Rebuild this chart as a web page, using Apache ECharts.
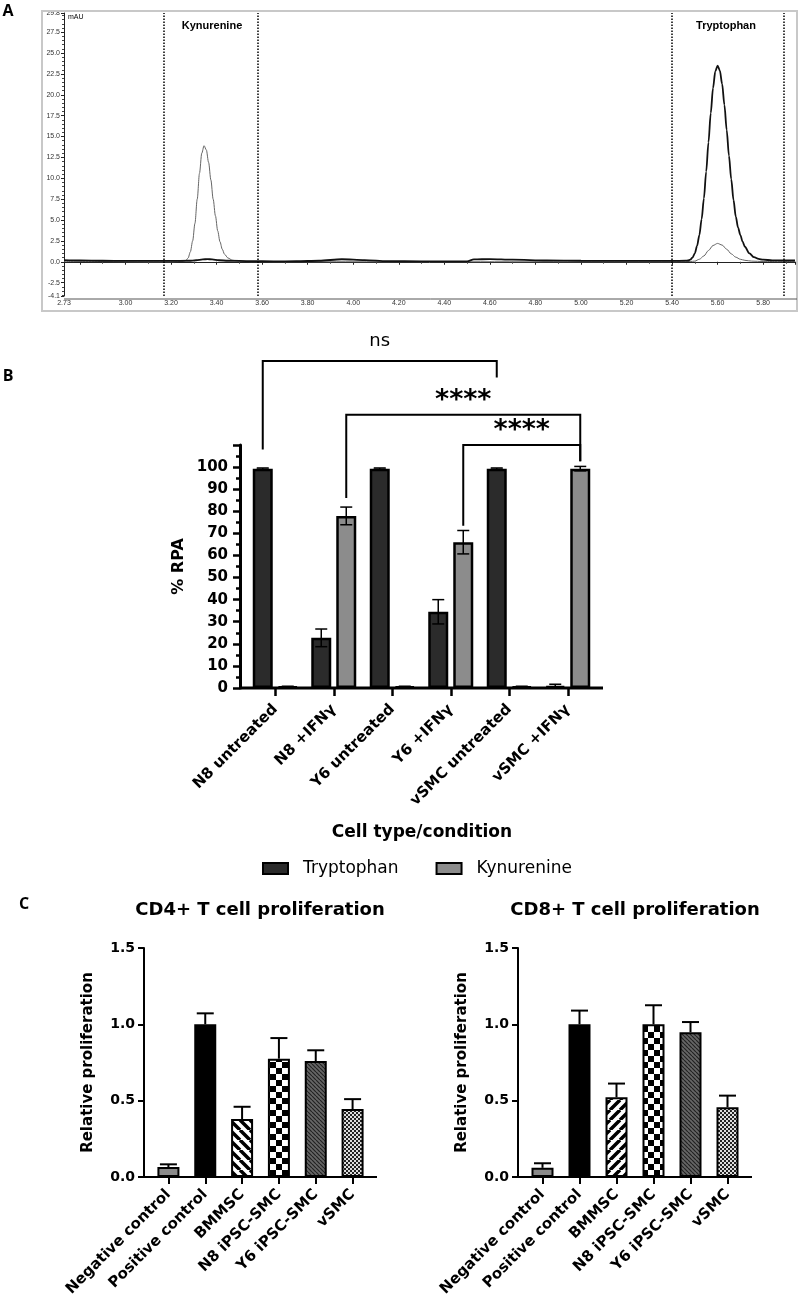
<!DOCTYPE html>
<html>
<head>
<meta charset="utf-8">
<script src="https://cdn.jsdelivr.net/npm/echarts@6/dist/echarts.min.js"></script>
<style>
  html, body { margin: 0; padding: 0; background: #fff; }
  #chart { width: 800px; height: 1300px; }
</style>
</head>
<body>
<div id="chart"></div>
<script>
// ---------- panel A : HPLC traces, [retention time (min), mAU] ----------
var thickTrace = [
  [2.73, 0.2], [2.8, 0.16], [2.9, 0.12], [3.0, 0.1], [3.1, 0.1], [3.2, 0.1], [3.28, 0.12],
  [3.31, 0.18], [3.34, 0.28], [3.36, 0.32], [3.38, 0.28], [3.41, 0.18], [3.45, 0.12], [3.55, 0.08],
  [3.65, 0.05], [3.75, 0.06], [3.85, 0.12], [3.95, 0.3], [4.05, 0.2], [4.15, 0.08], [4.3, 0.05],
  [4.45, 0.04], [4.5, 0.05], [4.53, 0.28], [4.6, 0.32], [4.7, 0.25], [4.85, 0.15], [5.0, 0.12],
  [5.2, 0.1], [5.4, 0.1], [5.46, 0.13], [5.47, 0.15], [5.48, 0.25], [5.49, 0.5], [5.5, 1.0],
  [5.51, 1.9], [5.52, 3.2], [5.53, 5.1], [5.54, 7.6], [5.55, 10.8], [5.56, 14.3], [5.57, 17.8],
  [5.58, 20.8], [5.59, 22.8], [5.6, 23.5], [5.61, 22.9], [5.62, 21.3], [5.63, 18.8], [5.64, 15.8],
  [5.65, 12.7], [5.66, 9.9], [5.67, 7.4], [5.68, 5.4], [5.69, 4.1], [5.7, 3.2], [5.71, 2.4],
  [5.72, 1.8], [5.74, 1.0], [5.76, 0.55], [5.78, 0.35], [5.8, 0.25], [5.84, 0.17], [5.9, 0.15], [5.94, 0.15]
];
var thinTrace = [
  [2.73, 0.05], [2.9, 0.02], [3.1, 0.0], [3.2, 0.0], [3.255, 0.05], [3.265, 0.15], [3.275, 0.45],
  [3.285, 1.2], [3.295, 2.5], [3.305, 4.6], [3.315, 7.5], [3.325, 10.6], [3.335, 13.0], [3.345, 13.9],
  [3.355, 13.4], [3.365, 11.9], [3.375, 9.8], [3.385, 7.5], [3.395, 5.5], [3.405, 3.7], [3.415, 2.4],
  [3.425, 1.5], [3.435, 0.9], [3.45, 0.45], [3.47, 0.18], [3.5, 0.07], [3.55, 0.02], [3.7, 0.0],
  [4.0, 0.0], [4.5, 0.0], [5.0, 0.0], [5.4, 0.0], [5.48, 0.03], [5.5, 0.08], [5.52, 0.3], [5.54, 0.7],
  [5.56, 1.35], [5.58, 1.95], [5.6, 2.2], [5.62, 2.0], [5.64, 1.5], [5.66, 0.95], [5.68, 0.55],
  [5.7, 0.3], [5.72, 0.17], [5.75, 0.08], [5.8, 0.03], [5.94, 0.02]
];
var regionBounds = [3.17, 3.585, 5.40, 5.89];

// ---------- panel B : % RPA ----------
var conditions = ['N8 untreated', 'N8 +IFNγ', 'Y6 untreated', 'Y6 +IFNγ', 'vSMC untreated', 'vSMC +IFNγ'];
var trpMean = [99.3, 22.7, 99.3, 34.5, 99.3, 0.8];
var trpErr  = [0.3, 4.0, 0.3, 5.5, 0.3, 0.9];
var kynMean = [0.6, 77.9, 0.6, 66.0, 0.6, 99.3];
var kynErr  = [0.2, 4.0, 0.2, 5.3, 0.2, 1.0];
// [from category, bar, value], [to category, bar, value], top, label
var brackets = [
  { from: [0, 'trp', 108], to: [4, 'trp', 140.5], top: 148, label: 'ns', labelAt: 157 },
  { from: [1, 'kyn', 86], to: [5, 'kyn', 102.7], top: 123.7, label: '****', labelAt: 130 },
  { from: [3, 'kyn', 73.5], to: [5, 'kyn', 102.7], top: 110, label: '****', labelAt: 116.5 }
];

// ---------- panel C : relative proliferation ----------
var cellTypes = ['Negative control', 'Positive control', 'BMMSC', 'N8 iPSC-SMC', 'Y6 iPSC-SMC', 'vSMC'];
var cd4Mean = [0.065, 1.0, 0.38, 0.775, 0.76, 0.445];
var cd4Sem  = [0.018, 0.072, 0.08, 0.135, 0.07, 0.065];
var cd8Mean = [0.06, 1.0, 0.522, 1.0, 0.948, 0.457];
var cd8Sem  = [0.03, 0.09, 0.09, 0.125, 0.067, 0.076];

var BOLD = 'DejaVu Sans';
var gridA = { left: 64, top: 13, width: 731, height: 283 };
var gridB = { left: 246, top: 445, width: 351, height: 243 };
var gridC4 = { left: 150, top: 948, width: 221, height: 229 };
var gridC8 = { left: 524, top: 948, width: 222, height: 229 };
var B_BAR = 20, B_GAP = 0.25;
var bOffset = B_BAR * (1 + B_GAP) / 2;

// fill patterns for panel C
function stripes(dir, bg, fg, size, lw) {
  var c = document.createElement('canvas');
  c.width = c.height = size;
  var g = c.getContext('2d');
  g.fillStyle = bg; g.fillRect(0, 0, size, size);
  g.strokeStyle = fg; g.lineWidth = lw;
  g.beginPath();
  for (var k = -1; k <= 1; k++) {
    if (dir === '/') { g.moveTo(k * size, size); g.lineTo(k * size + size, 0); }
    else { g.moveTo(k * size, 0); g.lineTo(k * size + size, size); }
  }
  g.stroke();
  return { image: c, repeat: 'repeat' };
}
function checker(s, c1, c2) {
  var c = document.createElement('canvas');
  c.width = c.height = s * 2;
  var g = c.getContext('2d');
  g.fillStyle = c2; g.fillRect(0, 0, s * 2, s * 2);
  g.fillStyle = c1; g.fillRect(0, 0, s, s); g.fillRect(s, s, s, s);
  return { image: c, repeat: 'repeat' };
}
function fills(bmDir) {
  return ['#8a8a8a', '#000000', stripes(bmDir, '#ffffff', '#000000', 10, 3.5),
    checker(6, '#000000', '#ffffff'), stripes('\\', '#666666', '#222222', 4, 1.2),
    checker(2, '#222222', '#dddddd')];
}

function errBars(offset, cap, lw, both) {
  return function (params, api) {
    var cat = api.value(0), m = api.value(1), e = api.value(2);
    var x = api.coord([cat, 0])[0] + offset;
    var hi = api.coord([cat, m + e])[1];
    var lo = api.coord([cat, both ? Math.max(0, m - e) : m])[1];
    var st = { stroke: '#000', lineWidth: lw };
    var kids = [
      { type: 'line', shape: { x1: x, y1: lo, x2: x, y2: hi }, style: st },
      { type: 'line', shape: { x1: x - cap / 2, y1: hi, x2: x + cap / 2, y2: hi }, style: st }
    ];
    if (both) kids.push({ type: 'line', shape: { x1: x - cap / 2, y1: lo, x2: x + cap / 2, y2: lo }, style: st });
    return { type: 'group', children: kids };
  };
}
function zip3(m, e) { return m.map(function (v, i) { return [i, v, e[i]]; }); }

function cYAxis(grid) {
  return {
    type: 'value', gridIndex: grid, min: 0, max: 1.5, interval: 0.5, offset: 6,
    name: 'Relative proliferation', nameLocation: 'middle', nameGap: 48,
    nameTextStyle: { fontFamily: BOLD, fontWeight: 'bold', fontSize: 15, color: '#000' },
    axisLine: { show: true, lineStyle: { color: '#000', width: 2 } },
    axisTick: { show: true, length: 6, lineStyle: { color: '#000', width: 2 } },
    axisLabel: { fontFamily: BOLD, fontWeight: 'bold', fontSize: 14, color: '#000', margin: 9,
      formatter: function (v) { return v.toFixed(1); } },
    splitLine: { show: false }
  };
}
function cXAxis(grid) {
  return {
    type: 'category', gridIndex: grid, data: cellTypes,
    axisLine: { show: false },
    axisTick: { show: true, alignWithLabel: true, length: 7, lineStyle: { color: '#000', width: 2 } },
    axisLabel: { interval: 0, rotate: 45, fontFamily: BOLD, fontWeight: 'bold', fontSize: 15, color: '#000', margin: 15 }
  };
}
function cBars(xi, means, dir) {
  var f = fills(dir);
  return {
    type: 'bar', xAxisIndex: xi, yAxisIndex: xi, barWidth: 22,
    data: means.map(function (v, i) { return { value: v, itemStyle: { color: f[i] } }; }),
    itemStyle: { borderColor: '#000', borderWidth: 2 }
  };
}

var chart = echarts.init(document.getElementById('chart'), null, { renderer: 'canvas' });

var option = {
  animation: false,
  backgroundColor: '#fff',
  grid: [
    Object.assign({ show: false }, gridA),
    gridB, gridC4, gridC8
  ],
  legend: {
    data: ['Tryptophan', 'Kynurenine'], left: 257, top: 855, icon: 'rect',
    itemWidth: 25, itemHeight: 11, itemGap: 37,
    itemStyle: { borderColor: '#000', borderWidth: 2 },
    textStyle: { fontFamily: BOLD, fontSize: 17, color: '#000', padding: [0, 0, 0, 10] }
  },
  xAxis: [
    {
      type: 'value', gridIndex: 0, min: 2.73, max: 5.94, minInterval: 0.2, maxInterval: 0.2,
      axisLine: { lineStyle: { color: '#222', width: 1 } },
      axisTick: { length: 3, lineStyle: { color: '#222' } },
      minorTick: { show: true, splitNumber: 2, length: 2, lineStyle: { color: '#444' } },
      axisLabel: { fontFamily: 'Liberation Sans', fontSize: 7, color: '#333', margin: 4,
        showMinLabel: true, showMaxLabel: false,
        formatter: function (v) { return (Math.abs(v - 2.8) < 1e-6 || v > 5.85) ? '' : v.toFixed(2); } },
      splitLine: { show: false }
    },
    {
      type: 'category', gridIndex: 1, data: conditions,
      axisLine: { show: false },
      axisTick: { show: true, alignWithLabel: true, length: 8, lineStyle: { color: '#000', width: 2.5 } },
      axisLabel: { interval: 0, rotate: 45, fontFamily: BOLD, fontWeight: 'bold', fontSize: 15, color: '#000', margin: 19 }
    },
    cXAxis(2), cXAxis(3)
  ],
  yAxis: [
    {
      type: 'value', gridIndex: 0, min: -4.1, max: 29.8, minInterval: 2.5, maxInterval: 2.5,
      axisLine: { show: true, lineStyle: { color: '#222', width: 1 } },
      axisTick: { show: true, length: 3, lineStyle: { color: '#222' } },
      minorTick: { show: true, splitNumber: 5, length: 2, lineStyle: { color: '#444' } },
      axisLabel: { fontFamily: 'Liberation Sans', fontSize: 7, color: '#333', margin: 4,
        showMinLabel: true, showMaxLabel: true,
        formatter: function (v) { return v.toFixed(1); } },
      splitLine: { show: false }
    },
    {
      type: 'value', gridIndex: 1, min: 0, max: 110, interval: 10, offset: 6,
      name: '% RPA', nameLocation: 'middle', nameGap: 53,
      nameTextStyle: { fontFamily: BOLD, fontWeight: 'bold', fontSize: 16, color: '#000' },
      axisLine: { show: true, lineStyle: { color: '#000', width: 3 } },
      axisTick: { show: true, length: 7, lineStyle: { color: '#000', width: 2.5 } },
      minorTick: { show: true, splitNumber: 2, length: 4, lineStyle: { color: '#000', width: 2.5 } },
      axisLabel: { fontFamily: BOLD, fontWeight: 'bold', fontSize: 15, color: '#000', margin: 12,
        formatter: function (v) { return v === 110 ? '' : String(v); } },
      splitLine: { show: false }
    },
    cYAxis(2), cYAxis(3)
  ],
  series: [
    {
      type: 'line', xAxisIndex: 0, yAxisIndex: 0, data: thickTrace, showSymbol: false,
      smooth: 0.3, smoothMonotone: 'x', lineStyle: { color: '#111', width: 1.8 }, z: 3,
      markLine: {
        silent: true, symbol: 'none', label: { show: false },
        lineStyle: { color: '#000', type: 'dotted', width: 1.5 },
        data: regionBounds.map(function (t) { return { xAxis: t }; })
      }
    },
    {
      type: 'line', xAxisIndex: 0, yAxisIndex: 0, data: thinTrace, showSymbol: false,
      smooth: 0.3, smoothMonotone: 'x', lineStyle: { color: '#666', width: 1 }, z: 2
    },
    {
      name: 'Tryptophan', type: 'bar', xAxisIndex: 1, yAxisIndex: 1, data: trpMean,
      barWidth: B_BAR, barGap: (B_GAP * 100) + '%',
      itemStyle: { color: '#2b2b2b', borderColor: '#000', borderWidth: 2.5 }
    },
    {
      name: 'Kynurenine', type: 'bar', xAxisIndex: 1, yAxisIndex: 1, data: kynMean,
      barWidth: B_BAR, barGap: (B_GAP * 100) + '%',
      itemStyle: { color: '#8c8c8c', borderColor: '#000', borderWidth: 2.5 }
    },
    { type: 'custom', xAxisIndex: 1, yAxisIndex: 1, data: zip3(trpMean, trpErr), z: 5,
      renderItem: errBars(-bOffset, 12, 1.5, true) },
    { type: 'custom', xAxisIndex: 1, yAxisIndex: 1, data: zip3(kynMean, kynErr), z: 5,
      renderItem: errBars(bOffset, 12, 1.5, true) },
    cBars(2, cd4Mean, '\\'),
    { type: 'custom', xAxisIndex: 2, yAxisIndex: 2, data: zip3(cd4Mean, cd4Sem), z: 5,
      renderItem: errBars(0, 17, 2, false) },
    cBars(3, cd8Mean, '/'),
    { type: 'custom', xAxisIndex: 3, yAxisIndex: 3, data: zip3(cd8Mean, cd8Sem), z: 5,
      renderItem: errBars(0, 17, 2, false) }
  ]
};
chart.setOption(option);

// ---------- annotations ----------
function txt(text, x, y, font, align) {
  return { type: 'text', x: x, y: y, z: 10,
    style: { text: text, font: font, fill: '#000', align: align || 'center', verticalAlign: 'middle' } };
}
function axisLine(g, w) {
  var y = g.top + g.height;
  return { type: 'line', z: 10, shape: { x1: g.left - 6, y1: y, x2: g.left + g.width + 6, y2: y },
    style: { stroke: '#000', lineWidth: w } };
}
var els = [
  { type: 'rect', shape: { x: 42, y: 11, width: 755, height: 300 }, style: { fill: null, stroke: '#c8c8c8', lineWidth: 2 }, z: 1 },
  { type: 'line', shape: { x1: 64, y1: 299, x2: 797, y2: 299 }, style: { stroke: '#555', lineWidth: 1 }, z: 1 },
  txt('A', 8, 11, 'bold 16px "Open Sans"'),
  txt('B', 8, 376, 'bold 16px "Open Sans"'),
  txt('C', 24, 904, 'bold 16px "Open Sans"'),
  txt('mAU', 68, 17, '7px "Liberation Sans"', 'left'),
  txt('Kynurenine', 212, 26, 'bold 11px "Liberation Sans"'),
  txt('Tryptophan', 726, 26, 'bold 11px "Liberation Sans"'),
  txt('Cell type/condition', 422, 833, 'bold 17px "DejaVu Sans"'),
  txt('CD4+ T cell proliferation', 260, 910, 'bold 18px "DejaVu Sans"'),
  txt('CD8+ T cell proliferation', 635, 910, 'bold 18px "DejaVu Sans"'),
  axisLine(gridB, 3), axisLine(gridC4, 2), axisLine(gridC8, 2)
];
function bPoint(cat, bar, v) {
  var p = chart.convertToPixel({ xAxisIndex: 1, yAxisIndex: 1 }, [cat, v]);
  return [p[0] + (bar === 'trp' ? -bOffset : bOffset), p[1]];
}
brackets.forEach(function (b) {
  var a = bPoint(b.from[0], b.from[1], b.from[2]);
  var d = bPoint(b.to[0], b.to[1], b.to[2]);
  var ty = bPoint(b.from[0], b.from[1], b.top)[1];
  var ly = bPoint(b.from[0], b.from[1], b.labelAt)[1];
  els.push({ type: 'polyline', z: 10, shape: { points: [a, [a[0], ty], [d[0], ty], d] },
    style: { stroke: '#000', lineWidth: 2, fill: null } });
  els.push(txt(b.label, (a[0] + d[0]) / 2, ly,
    b.label === 'ns' ? '18px "DejaVu Sans"' : 'bold 27px "DejaVu Sans"'));
});
chart.setOption({ graphic: els });
</script>
</body>
</html>
